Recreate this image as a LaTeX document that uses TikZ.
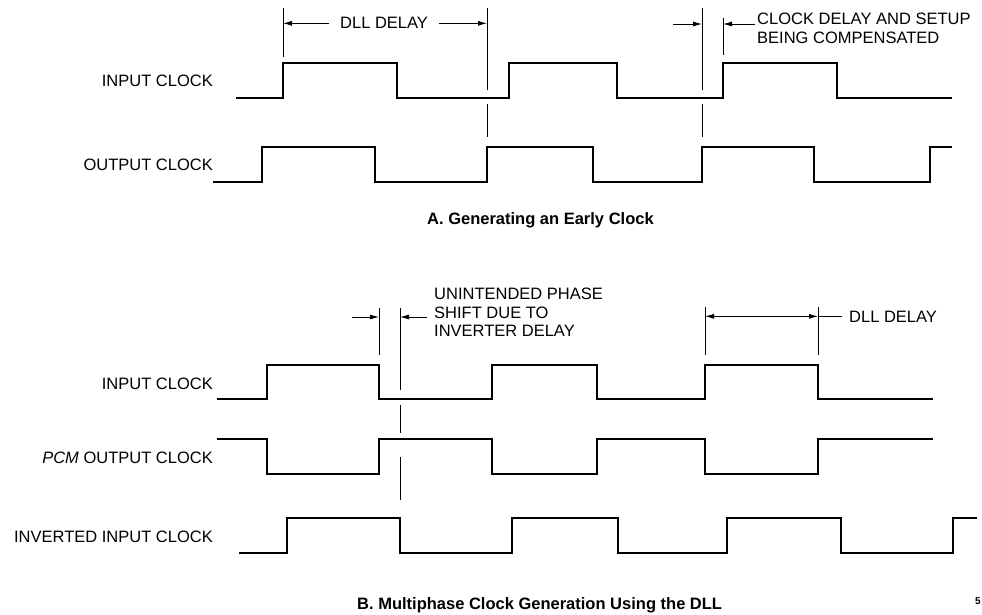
\documentclass[tikz,border=0pt]{standalone}
\usepackage{fontspec}
\setmainfont{Liberation Sans}
\usetikzlibrary{arrows.meta}

\begin{document}
\begin{tikzpicture}[x=1pt, y=-1pt,
    sig/.style={line width=1.8pt, line join=miter},
    guide/.style={line width=0.8pt},
    dim/.style={line width=0.8pt, -{Latex[length=9pt,width=5pt]}},
    dimboth/.style={line width=0.8pt, {Latex[length=9pt,width=5pt]}-{Latex[length=9pt,width=5pt]}},
    lbl/.style={font=\fontsize{16.5}{18.5}\selectfont, inner sep=0pt},
    capt/.style={font=\fontsize{16.5}{19}\selectfont\bfseries, inner sep=0pt}]
    \useasboundingbox (0,0) rectangle (982,615);

    % A. early clock
    \node[lbl, anchor=base east] (inA) at (213,87) {INPUT CLOCK};
    \node[lbl, anchor=base east] (outA) at (213,170) {OUTPUT CLOCK};

    \draw[sig] (236,98) -- (283,98) -- (283,63) -- (397,63) -- (397,98) -- (509,98) -- (509,63) -- (617,63) -- (617,98) -- (723,98) -- (723,63) -- (837,63) -- (837,98) -- (952,98);
    \draw[sig] (213,182) -- (262,182) -- (262,147) -- (375,147) -- (375,182) -- (487,182) -- (487,147) -- (593,147) -- (593,182) -- (702,182) -- (702,147) -- (814,147) -- (814,182) -- (930,182) -- (930,147) -- (952,147);

    \coordinate (g1t) at (283,8);  \coordinate (g1b) at (283,57);
    \coordinate (g2t) at (487,8);  \coordinate (g2m) at (487,90);
    \coordinate (g2n) at (487,104); \coordinate (g2b) at (487,137);
    \coordinate (g3t) at (702,8);  \coordinate (g3m) at (702,90);
    \coordinate (g3n) at (702,104); \coordinate (g3b) at (702,137);
    \coordinate (g4t) at (723,18); \coordinate (g4b) at (723,55);
    \coordinate (t3) at (673,24);  \coordinate (t4) at (755,24);

    \draw[guide] (g1t) -- (g1b);
    \draw[guide] (g2t) -- (g2m) (g2n) -- (g2b);
    \draw[guide] (g3t) -- (g3m) (g3n) -- (g3b);
    \draw[guide] (g4t) -- (g4b);

    \node[lbl, inner xsep=11pt, anchor=base west] (dllA) at (329,29) {DLL DELAY};
    \draw[dim] (dllA.west) -- (dllA.west -| g1t);
    \draw[dim] (dllA.east) -- (dllA.east -| g2t);
    \draw[dim] (t3) -- (t3 -| g3t);
    \draw[dim] (t4) -- (t4 -| g4t);
    \node[lbl, align=left, anchor=north west] (comp) at (757,13) {CLOCK DELAY AND SETUP\\BEING COMPENSATED};

    \node[capt, anchor=base west] (capA) at (427,224) {A. Generating an Early Clock};

    % B. multiphase
    \node[lbl, anchor=base east] (inB) at (213,389) {INPUT CLOCK};
    \node[lbl, anchor=base east] (pcmB) at (213,463) {\textit{PCM} OUTPUT CLOCK};
    \node[lbl, anchor=base east] (invB) at (213,542) {INVERTED INPUT CLOCK};

    \draw[sig] (217,399) -- (267,399) -- (267,365) -- (379,365) -- (379,399) -- (492,399) -- (492,365) -- (597,365) -- (597,399) -- (705,399) -- (705,365) -- (818,365) -- (818,399) -- (933,399);
    \draw[sig] (217,439) -- (267,439) -- (267,474) -- (379,474) -- (379,439) -- (492,439) -- (492,474) -- (597,474) -- (597,439) -- (705,439) -- (705,474) -- (818,474) -- (818,439) -- (933,439);
    \draw[sig] (239,553) -- (287,553) -- (287,518) -- (400,518) -- (400,553) -- (512,553) -- (512,518) -- (618,518) -- (618,553) -- (727,553) -- (727,518) -- (841,518) -- (841,553) -- (953,553) -- (953,518) -- (977,518);

    \coordinate (h1t) at (379,308); \coordinate (h1b) at (379,355);
    \coordinate (h2t) at (400,308); \coordinate (h2m) at (400,390);
    \coordinate (h2n) at (400,405); \coordinate (h2o) at (400,433);
    \coordinate (h2p) at (400,457); \coordinate (h2b) at (400,500);
    \coordinate (h3t) at (705,307); \coordinate (h3b) at (705,355);
    \coordinate (h4t) at (818,307); \coordinate (h4b) at (818,355);
    \coordinate (t5) at (352,317);  \coordinate (t6) at (427,317);

    \draw[guide] (h1t) -- (h1b);
    \draw[guide] (h2t) -- (h2m) (h2n) -- (h2o) (h2p) -- (h2b);
    \draw[guide] (h3t) -- (h3b);
    \draw[guide] (h4t) -- (h4b);

    \draw[dim] (t5) -- (t5 -| h1t);
    \draw[dim] (t6) -- (t6 -| h2t);
    \node[lbl, align=left, anchor=north west] (shift) at (434,288) {UNINTENDED PHASE\\SHIFT DUE TO\\INVERTER DELAY};

    \node[lbl, inner xsep=7pt, anchor=base west] (dllB) at (842,322) {DLL DELAY};
    \draw[dimboth] (dllB.west -| h3t) -- (dllB.west -| h4t);
    \draw[guide] (dllB.west -| h4t) -- (dllB.west);

    \node[capt, anchor=base west] (capB) at (357,609) {B. Multiphase Clock Generation Using the DLL};
    \node[font=\fontsize{10}{12}\selectfont\bfseries, inner sep=0pt] (pg) at (978,601) {5};
\end{tikzpicture}
\end{document}
